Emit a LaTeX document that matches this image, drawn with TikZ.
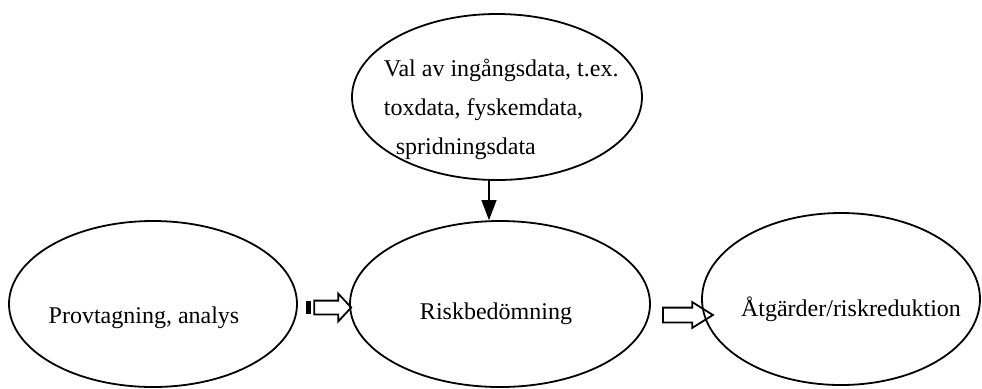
\documentclass[tikz,border=0pt]{standalone}
\usepackage{fontspec}
\setmainfont{Liberation Serif}
\usetikzlibrary{shapes.geometric,shapes.arrows,arrows.meta}
\begin{document}
\begin{tikzpicture}[x=0.5pt, y=-0.5pt, line width=0.9pt,
  oval/.style = {draw, ellipse, inner sep=0pt},
  txt/.style = {inner sep=0pt, font=\fontsize{12}{19.5}\selectfont},
  blockarr/.style = {draw, single arrow, inner xsep=0pt, single arrow head indent=0pt}]
\useasboundingbox (0,0) rectangle (982,388);
\node[oval, minimum width=144pt, minimum height=83pt] (prov) at (153,304) {};
\node[oval, minimum width=150pt, minimum height=83pt] (risk) at (500,304) {};
\node[oval, minimum width=139pt, minimum height=86pt] (atg) at (841,299) {};
\node[oval, minimum width=145pt, minimum height=83pt] (val) at (497,97) {};
\node[txt, anchor=base] (provtxt) at (144,323) {Provtagning, analys};
\node[txt, anchor=base] (risktxt) at (496,319) {Riskbedömning};
\node[txt, anchor=base] (atgtxt) at (851,316) {Åtgärder/riskreduktion};
\node[txt, anchor=north west, align=left] (valtxt) at (383,58)
  {Val av ingångsdata, t.ex.\\toxdata, fyskemdata,\\\hspace{6pt}spridningsdata};
\node[blockarr, inner ysep=3pt, minimum height=18.5pt, single arrow head extend=3.5pt,
  single arrow tip angle=94] (arr1) at (329.5,307.5) {};
\draw[fill=black] ([xshift=-3pt,yshift=-3pt]arr1.tail) rectangle ([xshift=-1.5pt,yshift=3pt]arr1.tail);
\node[blockarr, inner ysep=3.25pt, minimum height=25pt, single arrow head extend=2.75pt,
  single arrow tip angle=64] (arr2) at (682,315) {};
\draw[line width=0.6pt, -{Triangle[width=7.5pt,length=10pt]}] ([xshift=-4pt]val.south) -- ([xshift=-4pt]val.south |- risk.north);
\end{tikzpicture}
\end{document}
